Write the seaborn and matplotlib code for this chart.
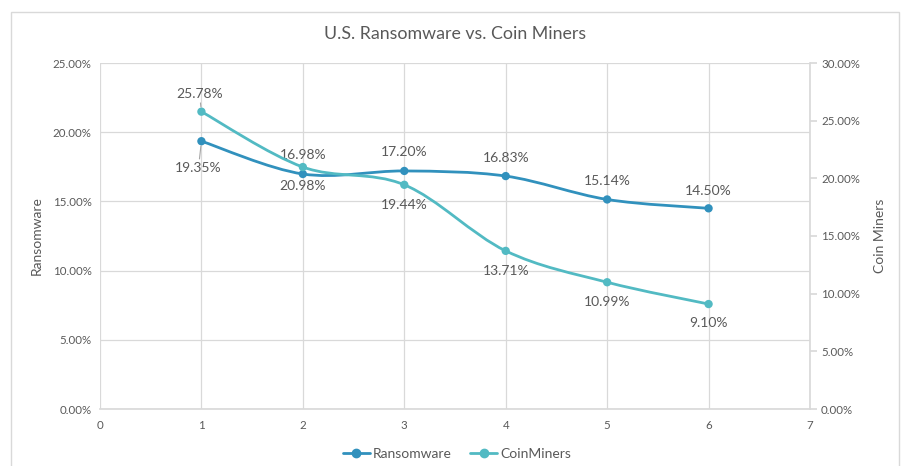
import matplotlib
matplotlib.use("Agg")
import matplotlib.pyplot as plt
import seaborn as sns
import pandas as pd
from matplotlib.path import Path
from matplotlib.patches import PathPatch, Rectangle
from matplotlib.lines import Line2D
from matplotlib.ticker import FuncFormatter, MultipleLocator

# data
periods = [1, 2, 3, 4, 5, 6]
ransomware = [19.35, 16.98, 17.20, 16.83, 15.14, 14.50]
coinminers = [25.78, 20.98, 19.44, 13.71, 10.99, 9.10]

# label offsets in pixels (negative y = above the point), picked by eye
ransom_off = [(-3, 27), (0, -19), (0, -19), (0, -18), (0, -18), (0, -17)]
coin_off = [(-2, -18), (0, 19), (0, 20), (0, 20), (0, 20), (0, 19)]

c_ransom = "#3191BD"
c_coin = "#52BAC3"
grey = "#595959"
gridc = "#D9D9D9"

sns.set_theme(style="white")
plt.rcParams["font.family"] = ["Lato", "DejaVu Sans"]

df = pd.DataFrame({"x": periods, "Ransomware": ransomware, "CoinMiners": coinminers})


def smooth_path(xs, ys):
    # Excel-style smoothed line: cubic bezier with catmull-rom control points
    pts = list(zip(xs, ys))
    verts = [pts[0]]
    codes = [Path.MOVETO]
    n = len(pts)
    for i in range(n - 1):
        p0 = pts[max(i - 1, 0)]
        p1 = pts[i]
        p2 = pts[i + 1]
        p3 = pts[min(i + 2, n - 1)]
        c1 = (p1[0] + (p2[0] - p0[0]) / 6, p1[1] + (p2[1] - p0[1]) / 6)
        c2 = (p2[0] - (p3[0] - p1[0]) / 6, p2[1] - (p3[1] - p1[1]) / 6)
        verts += [c1, c2, p2]
        codes += [Path.CURVE4] * 3
    return Path(verts, codes)


def put_labels(axis, xs, ys, offs):
    for x, y, (dx, dy) in zip(xs, ys, offs):
        kw = {}
        if x == 1:
            # leader line for the labels that were dragged away
            kw = dict(arrowprops=dict(arrowstyle="-", color="#A6A6A6", lw=0.8,
                                      shrinkA=0, shrinkB=3.5))
        axis.annotate(f"{y:.2f}%", (x, y), xytext=(dx * 0.72, -dy * 0.72),
                      textcoords="offset points", ha="center", va="center",
                      fontsize=10, color=grey, zorder=5, **kw)


fig = plt.figure(figsize=(9.02, 4.66), dpi=100)
fig.patches.append(Rectangle((11 / 902, -0.1), 888 / 902, 1.1 - 12 / 466,
                             transform=fig.transFigure, fill=False,
                             edgecolor="#D9D9D9", linewidth=1.0))
ax = fig.add_axes([100 / 902, 1 - 409 / 466, 710 / 902, 346 / 466])
ax2 = ax.twinx()

ax.set_xlim(0, 7)
ax.set_ylim(0, 25)
ax2.set_ylim(0, 30)
ax.xaxis.set_major_locator(MultipleLocator(1))
ax.yaxis.set_major_locator(MultipleLocator(5))
ax2.yaxis.set_major_locator(MultipleLocator(5))
pct = FuncFormatter(lambda v, p: f"{v:.2f}%")
ax.yaxis.set_major_formatter(pct)
ax2.yaxis.set_major_formatter(pct)

ax.grid(True, color=gridc, linewidth=0.9)
ax.set_axisbelow(True)
for s in ["top", "left", "right"]:
    ax.spines[s].set_visible(False)
    ax2.spines[s].set_visible(False)
ax.spines["bottom"].set_color(gridc)
ax2.spines["bottom"].set_visible(False)
ax2.spines["right"].set_visible(True)
ax2.spines["right"].set_color(gridc)

ax.tick_params(axis="both", labelsize=8.3, colors=grey, length=0, pad=6)
ax.tick_params(axis="x", pad=8)
ax2.tick_params(axis="y", labelsize=8.3, colors=grey, length=5, color=gridc,
                direction="out", pad=3)

ax.add_patch(PathPatch(smooth_path(periods, ransomware), fill=False,
                       edgecolor=c_ransom, linewidth=2.0, zorder=3))
ax2.add_patch(PathPatch(smooth_path(periods, coinminers), fill=False,
                        edgecolor=c_coin, linewidth=2.0, zorder=3))
sns.scatterplot(data=df, x="x", y="Ransomware", ax=ax, color=c_ransom,
                s=36, edgecolor="none", zorder=4, legend=False)
sns.scatterplot(data=df, x="x", y="CoinMiners", ax=ax2, color=c_coin,
                s=36, edgecolor="none", zorder=4, legend=False)

put_labels(ax, periods, ransomware, ransom_off)
put_labels(ax2, periods, coinminers, coin_off)

ax.set_xlabel("")
ax.set_ylabel("Ransomware", fontsize=10, color=grey, labelpad=7)
ax2.set_ylabel("Coin Miners", fontsize=10, color=grey, labelpad=10)
ax.set_title("U.S. Ransomware vs. Coin Miners", fontsize=12.8, color=grey, pad=17)

handles = [Line2D([], [], color=c_ransom, marker="o", markersize=6, lw=2),
           Line2D([], [], color=c_coin, marker="o", markersize=6, lw=2)]
fig.legend(handles, ["Ransomware", "CoinMiners"], loc="center",
           bbox_to_anchor=(457 / 902, 1 - 454 / 466), ncol=2, frameon=False,
           fontsize=10, labelcolor=grey, handlelength=1.95, handletextpad=0.25,
           columnspacing=1.3)

fig.savefig("out.png", dpi=100)
